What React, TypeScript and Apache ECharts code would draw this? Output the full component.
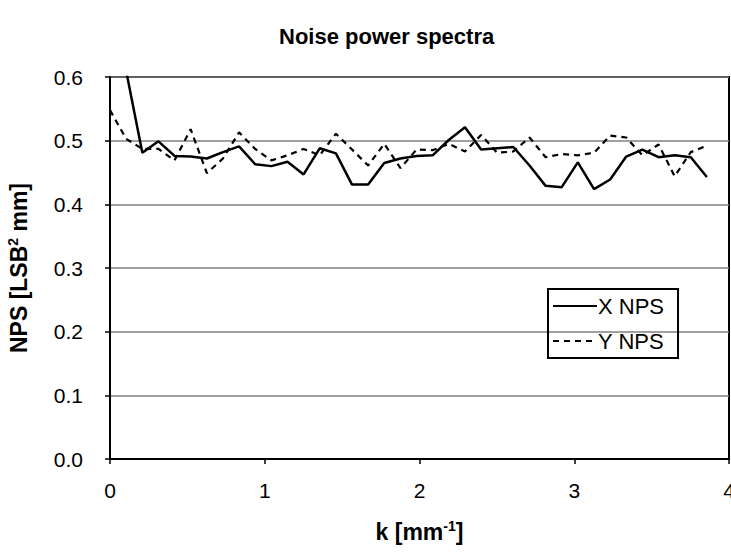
import React, { useEffect, useRef } from "react";
import * as echarts from "echarts";

const kValues = [
  0.0, 0.104, 0.209, 0.313, 0.417, 0.521, 0.626, 0.73, 0.834, 0.938, 1.043, 1.147,
  1.251, 1.355, 1.46, 1.564, 1.668, 1.772, 1.877, 1.981, 2.085, 2.189, 2.294, 2.398,
  2.502, 2.606, 2.711, 2.815, 2.919, 3.023, 3.128, 3.232, 3.336, 3.44, 3.545, 3.649,
  3.753, 3.857,
];

const xNps = [
  null, 0.61, 0.481, 0.499, 0.476, 0.475, 0.472, 0.482, 0.491, 0.463, 0.46, 0.467,
  0.447, 0.488, 0.48, 0.431, 0.431, 0.465, 0.472, 0.476, 0.477, 0.501, 0.521, 0.486,
  0.488, 0.49, 0.461, 0.429, 0.427, 0.466, 0.424, 0.439, 0.475, 0.486, 0.474, 0.477,
  0.474, 0.443,
];

const yNps = [
  0.548, 0.503, 0.487, 0.487, 0.469, 0.518, 0.449, 0.472, 0.513, 0.487, 0.469, 0.477,
  0.487, 0.477, 0.511, 0.486, 0.461, 0.495, 0.457, 0.486, 0.485, 0.495, 0.483, 0.509,
  0.481, 0.483, 0.505, 0.474, 0.479, 0.477, 0.481, 0.508, 0.505, 0.477, 0.494, 0.444,
  0.482, 0.492,
];

const xTicks = [0, 1, 2, 3, 4];
const yTicks = [0, 0.1, 0.2, 0.3, 0.4, 0.5, 0.6];

const FONT = "Liberation Sans, Arial, sans-serif";

export default function App() {
  const ref = useRef<HTMLDivElement>(null);
  useEffect(() => {
    if (!ref.current) return;
    const chart = echarts.init(ref.current, null, { renderer: "svg" });
    const pair = (vals: (number | null)[]) =>
      kValues.map((k, i) => [k, vals[i]]).filter((p) => p[1] !== null);
    chart.setOption({
      animation: false,
      backgroundColor: "#fff",
      textStyle: { fontFamily: FONT },
      title: {
        text: "Noise power spectra",
        left: 274,
        top: 20,
        textStyle: { fontFamily: FONT, fontWeight: "bold", fontSize: 22, color: "#000" },
      },
      grid: {
        left: 110,
        top: 77,
        right: 2,
        bottom: 100,
        containLabel: false,
        outerBoundsMode: "none",
        show: true,
        borderColor: "#000",
        borderWidth: 2,
        backgroundColor: "#fff",
      },
      legend: {
        orient: "vertical",
        left: 548,
        top: 289,
        padding: [6, 14, 6, 4],
        itemGap: 13,
        itemWidth: 44,
        itemHeight: 14,
        borderColor: "#000",
        borderWidth: 2,
        itemStyle: { color: "transparent", borderWidth: 0 },
        textStyle: { fontFamily: FONT, fontSize: 22, color: "#000", padding: [0, 0, 0, -4] },
        data: ["X NPS", "Y NPS"],
      },
      xAxis: {
        type: "value",
        min: xTicks[0],
        max: xTicks[xTicks.length - 1],
        interval: 1,
        name: "{b|k [mm}{s|-1}{b|]}",
        nameLocation: "middle",
        nameGap: 60,
        nameTextStyle: {
          rich: {
            b: { fontFamily: FONT, fontWeight: "bold", fontSize: 23, color: "#000" },
            s: { fontFamily: FONT, fontWeight: "bold", fontSize: 14, color: "#000", verticalAlign: "top", padding: [0, 0, 12, 0] },
          },
        },
        axisLine: { show: true, lineStyle: { color: "#000", width: 2 } },
        axisTick: { show: true, inside: false, length: 5, lineStyle: { color: "#000", width: 1.5 } },
        axisLabel: { fontFamily: FONT, fontSize: 21, color: "#000", margin: 21 },
        splitLine: { show: false },
      },
      yAxis: {
        type: "value",
        min: yTicks[0],
        max: yTicks[yTicks.length - 1],
        interval: 0.1,
        name: "{b|NPS [LSB}{s|2}{b| mm]}",
        nameLocation: "middle",
        nameRotate: 90,
        nameGap: 78,
        nameTextStyle: {
          rich: {
            b: { fontFamily: FONT, fontWeight: "bold", fontSize: 23, color: "#000" },
            s: { fontFamily: FONT, fontWeight: "bold", fontSize: 14, color: "#000", verticalAlign: "top", padding: [0, 0, 12, 0] },
          },
        },
        axisLine: { show: true, lineStyle: { color: "#000", width: 2 } },
        axisTick: { show: true, inside: false, length: 5, lineStyle: { color: "#000", width: 1.5 } },
        axisLabel: {
          fontFamily: FONT,
          fontSize: 21,
          color: "#000",
          margin: 27,
          formatter: (v: number) => v.toFixed(1),
        },
        splitLine: { show: true, lineStyle: { color: "#808080", width: 1.5 } },
      },
      series: [
        {
          name: "X NPS",
          type: "line",
          data: pair(xNps),
          symbol: "none",
          clip: true,
          lineStyle: { color: "#000", width: 2.5, type: "solid" },
          itemStyle: { color: "#000" },
        },
        {
          name: "Y NPS",
          type: "line",
          data: pair(yNps),
          symbol: "none",
          clip: true,
          lineStyle: { color: "#000", width: 2.2, type: [6, 5] },
          itemStyle: { color: "#000" },
        },
      ],
    });
    return () => chart.dispose();
  }, []);
  return (
    <div
      ref={ref}
      style={{ position: "fixed", left: 0, top: 0, width: 731, height: 559, background: "#fff" }}
    />
  );
}
